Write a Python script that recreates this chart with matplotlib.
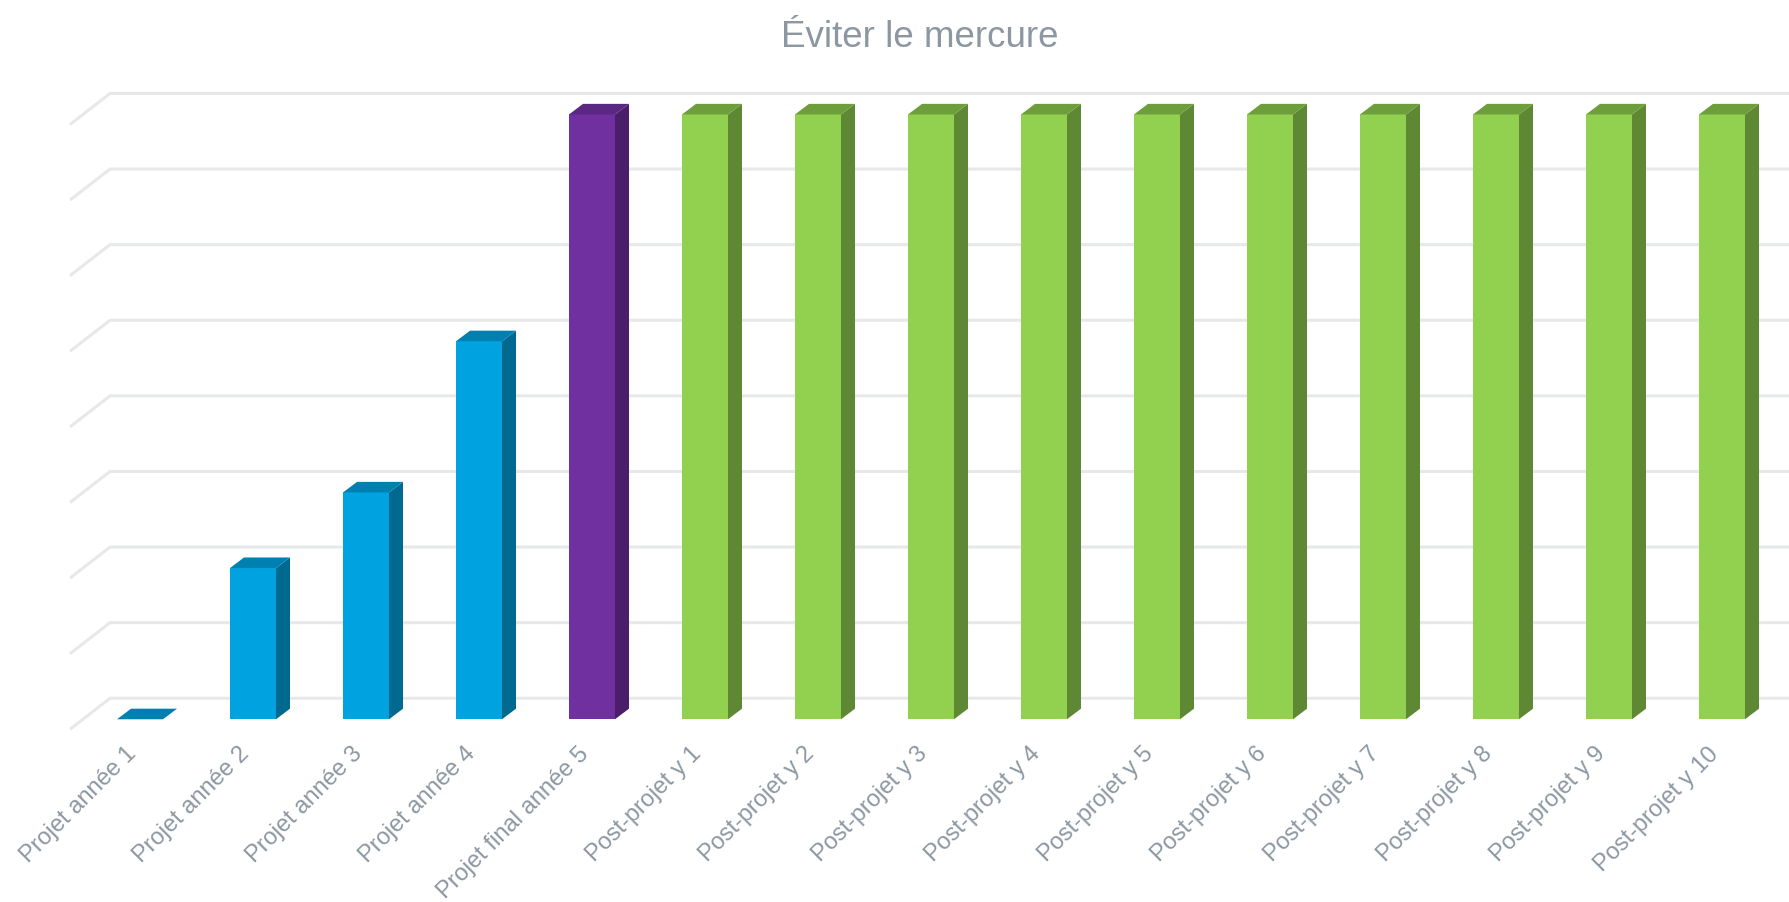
import numpy as np
import matplotlib
matplotlib.use('Agg')
import matplotlib.pyplot as plt
from matplotlib.patches import Polygon

plt.rcParams['font.family'] = ['Liberation Sans', 'DejaVu Sans']

# data
categories = ['Projet année 1', 'Projet année 2', 'Projet année 3', 'Projet année 4',
              'Projet final année 5',
              'Post-projet y 1', 'Post-projet y 2', 'Post-projet y 3', 'Post-projet y 4',
              'Post-projet y 5', 'Post-projet y 6', 'Post-projet y 7', 'Post-projet y 8',
              'Post-projet y 9', 'Post-projet y 10']
values = [0, 2, 3, 5, 8, 8, 8, 8, 8, 8, 8, 8, 8, 8, 8]
groups = ['projet'] * 4 + ['final'] + ['post'] * 10
grid_levels = list(range(0, 9))
title = 'Éviter le mercure'

# front, side, top colours per group
palette = {
    'projet': ('#00A3E0', '#006990', '#0080B0'),
    'final': ('#7030A0', '#4A1E6B', '#5A2783'),
    'post': ('#92D050', '#5E8833', '#6E9E3C'),
}
text_col = '#8C97A2'
grid_col = '#E6E8EA'

W, H = 1789, 903
fig = plt.figure(figsize=(W / 100, H / 100), dpi=100)
ax = fig.add_axes([0, 0, 1, 1])
ax.set_xlim(-1.239, 14.593)
ax.set_ylim(-2.417, 9.527)
ax.axis('off')

bar_w = 0.407
dep_x, dep_y = 0.124, 0.14      # depth of a bar
wall_dy = 0.278                 # back wall lifted above bar base
wall_x0 = -0.265
floor_x0, floor_dy = -0.619, -0.132

# gridlines on the back wall + side wall diagonals
for v in grid_levels:
    ax.plot([floor_x0, wall_x0, 20], [v + floor_dy, v + wall_dy, v + wall_dy],
            color=grid_col, lw=2.2, zorder=1, solid_capstyle='butt')

x = np.arange(len(categories))
fronts = [palette[g][0] for g in groups]
ax.bar(x, values, width=bar_w, color=fronts, zorder=3, linewidth=0)

for xi, v, g in zip(x, values, groups):
    front, side, top = palette[g]
    l, r = xi - bar_w / 2, xi + bar_w / 2
    if v > 0:
        ax.add_patch(Polygon([(r, 0), (r + dep_x, dep_y), (r + dep_x, v + dep_y), (r, v)],
                             closed=True, fc=side, ec='none', zorder=3))
    ax.add_patch(Polygon([(l, v), (r, v), (r + dep_x, v + dep_y), (l + dep_x, v + dep_y)],
                         closed=True, fc=top, ec='none', zorder=3))

for xi, lab in zip(x, categories):
    ax.text(xi - 0.13, -0.30, lab, rotation=45, rotation_mode='anchor',
            ha='right', va='top', fontsize=17, color=text_col)

fig.text(0.514, 1 - 37.5 / H, title, ha='center', va='center', fontsize=26.5, color=text_col)

fig.savefig('out.png', dpi=100)
